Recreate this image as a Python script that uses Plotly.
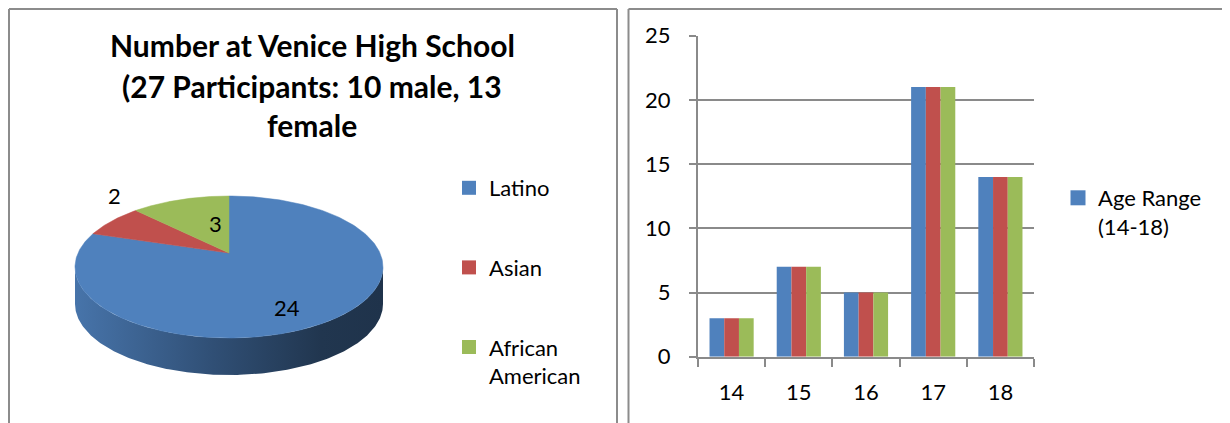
import numpy as np
import plotly.graph_objects as go

# ---------------- data ----------------
pie_labels = ["Latino", "Asian", "African American"]
pie_values = [24, 2, 3]
pie_colors = ["#4F81BD", "#C0504D", "#9BBB59"]

ages = ["14", "15", "16", "17", "18"]
series_blue = [3, 7, 5, 21, 14]
series_red = [3, 7, 5, 21, 14]
series_green = [3, 7, 5, 21, 14]
bar_colors = ["#4F81BD", "#C0504D", "#9BBB59"]
bar_legend_name = "Age Range<br>(14-18)"

title_lines = ["Number at Venice High School", "(27 Participants: 10 male, 13", "female"]

# ---------------- layout constants (pixels, in reference-image coords) ----------------
OFF = 8                       # page body margin offset
W, H = 1230 - OFF, 423 - OFF  # figure size
FONT = "Lato"
cx, cy, ra, rb, depth, apex_dy = 229, 267, 154, 71, 37, -14
label_pos = [(287, 307), (114, 195), (215, 223)]
title_y = [45, 86, 125]


def px(x):   # reference x pixel -> paper fraction
    return (x - OFF) / W


def py(y):   # reference y pixel -> paper fraction
    return 1 - (y - OFF) / H


def shade(hexc, f):
    h = hexc.lstrip("#")
    r, g, b = (int(h[i:i + 2], 16) for i in (0, 2, 4))
    return "rgb(%d,%d,%d)" % (r * f, g * f, b * f)


fig = go.Figure()

# ---------------- 3-D looking pie (computed from values) ----------------
total = float(sum(pie_values))
bounds = np.concatenate([[0], np.cumsum(pie_values)]) / total * 360.0


def rim(phi_deg, dy=0.0):
    p = np.radians(phi_deg)
    return cx + ra * np.sin(p), cy - rb * np.cos(p) + dy

# side walls (front half of ellipse: 90..270 deg)
for i, col in enumerate(pie_colors):
    lo, hi = max(bounds[i], 90), min(bounds[i + 1], 270)
    if hi <= lo:
        continue
    ph = np.linspace(lo, hi, 200)
    xt, yt = rim(ph)
    xb, yb = rim(ph[::-1], depth)
    fig.add_trace(go.Scatter(
        x=np.concatenate([xt, xb]), y=np.concatenate([yt, yb]),
        xaxis="x2", yaxis="y2", mode="lines", fill="toself",
        line=dict(width=0, color=shade(col, 0.5)),
        fillgradient=dict(type="horizontal", colorscale=[
            [0, shade(col, 0.9)], [0.45, shade(col, 0.62)],
            [0.8, shade(col, 0.42)], [1, shade(col, 0.40)]]),
        hoverinfo="skip", showlegend=False))

# top wedges
for i, col in enumerate(pie_colors):
    ph = np.linspace(bounds[i], bounds[i + 1], 300)
    xs, ys = rim(ph)
    fig.add_trace(go.Scatter(
        x=np.concatenate([[cx], xs, [cx]]),
        y=np.concatenate([[cy + apex_dy], ys, [cy + apex_dy]]),
        xaxis="x2", yaxis="y2", mode="lines", fill="toself",
        fillcolor=col, line=dict(width=0.5, color=col),
        name=pie_labels[i], hoverinfo="name", showlegend=False))

# pie legend entries
for i, col in enumerate(pie_colors):
    fig.add_trace(go.Scatter(
        x=[None], y=[None], xaxis="x2", yaxis="y2", mode="markers",
        marker=dict(symbol="square", size=14, color=col),
        name=pie_labels[i].replace(" ", "<br>"), legend="legend2",
        legendgroup="p%d" % i, showlegend=True))

# pie data labels
for (lx, ly), v in zip(label_pos, pie_values):
    fig.add_annotation(x=lx, y=ly, xref="x2", yref="y2", text=str(v),
                       showarrow=False, font=dict(family=FONT, size=22, color="black"))

# title
for t, ty in zip(title_lines, title_y):
    fig.add_annotation(x=312, y=ty, xref="x2", yref="y2", text="<b>%s</b>" % t,
                       showarrow=False, font=dict(family=FONT, size=30, color="black"))

# ---------------- bar chart ----------------
for k, (vals, col) in enumerate(zip([series_blue, series_red, series_green], bar_colors)):
    fig.add_trace(go.Bar(x=ages, y=vals, marker=dict(color=col, line=dict(width=0)),
                         name=bar_legend_name if k == 0 else "s%d" % k,
                         showlegend=False, xaxis="x", yaxis="y"))
fig.add_trace(go.Scatter(x=[None], y=[None], mode="markers", xaxis="x", yaxis="y",
                         marker=dict(symbol="square", size=15, color=bar_colors[0]),
                         name=bar_legend_name, legend="legend", showlegend=True))

grid = "#8a8a8a"
border = "#8c8c8c"
fig.update_layout(
    width=W, height=H, margin=dict(l=0, r=0, t=0, b=0, autoexpand=False),
    paper_bgcolor="white", plot_bgcolor="rgba(0,0,0,0)",
    font=dict(family=FONT, size=22, color="black"),
    barmode="group", bargap=0.343, bargroupgap=0,
    xaxis=dict(domain=[px(698), px(1034)], type="category", showline=True,
               linecolor=grid, linewidth=2, ticks="outside", tickson="boundaries",
               ticklen=8, tickcolor=grid, tickwidth=2, showgrid=False,
               tickfont=dict(family=FONT, size=22), ticklabelstandoff=15,
               anchor="y", fixedrange=True, automargin=False),
    yaxis=dict(domain=[py(356.7), py(35.7)], range=[0, 25], dtick=5,
               showline=True, linecolor=grid, linewidth=2, showgrid=True,
               gridcolor=grid, gridwidth=2, zeroline=False, ticks="outside",
               ticklen=7, tickcolor=grid, tickwidth=2,
               tickfont=dict(family=FONT, size=22), ticklabelstandoff=14,
               anchor="x", fixedrange=True, automargin=False),
    xaxis2=dict(domain=[0, 612 / W], range=[OFF, 620], visible=False, anchor="y2",
                fixedrange=True, automargin=False),
    yaxis2=dict(domain=[0, 1], range=[423, OFF], visible=False, anchor="x2",
                fixedrange=True, automargin=False),
    legend=dict(x=px(1058), y=py(177), xanchor="left", yanchor="top",
                valign="top", bgcolor="rgba(0,0,0,0)",
                font=dict(family=FONT, size=22, color="black")),
    legend2=dict(x=px(449), y=py(167), xanchor="left", yanchor="top",
                 valign="top", tracegroupgap=48, bgcolor="rgba(0,0,0,0)",
                 font=dict(family=FONT, size=22, color="black")),
    shapes=[
        # panel frames (the top/left edges sit at the first visible pixels)
        dict(type="line", xref="paper", yref="paper", x0=px(9), x1=px(9),
             y0=-0.2, y1=py(9), line=dict(color=border, width=2)),
        dict(type="line", xref="paper", yref="paper", x0=px(9), x1=px(617),
             y0=py(9), y1=py(9), line=dict(color=border, width=2)),
        dict(type="line", xref="paper", yref="paper", x0=px(617), x1=px(617),
             y0=-0.2, y1=py(9), line=dict(color=border, width=2)),
        dict(type="line", xref="paper", yref="paper", x0=px(628.5), x1=px(628.5),
             y0=-0.2, y1=py(9), line=dict(color=border, width=2)),
        dict(type="line", xref="paper", yref="paper", x0=px(628.5), x1=1.2,
             y0=py(9), y1=py(9), line=dict(color=border, width=2)),
    ],
)

fig.write_html("out.html")
